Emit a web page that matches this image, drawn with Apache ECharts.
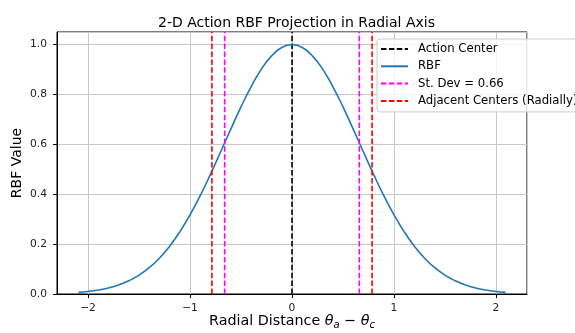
<!DOCTYPE html>
<html>
<head>
<meta charset="utf-8">
<script src="https://cdn.jsdelivr.net/npm/echarts@6/dist/echarts.min.js"></script>
<style>html,body{margin:0;padding:0;background:#fff}#c{width:575px;height:333px}</style>
</head>
<body>
<div id="c"></div>
<script>
const rbfX = [-2.094,-2.0,-1.9,-1.8,-1.7,-1.6,-1.5,-1.4,-1.3,-1.2,-1.1,-1.0,-0.9,-0.8,-0.7,-0.6,-0.5,-0.4,-0.3,-0.2,-0.1,0.0,0.1,0.2,0.3,0.4,0.5,0.6,0.7,0.8,0.9,1.0,1.1,1.2,1.3,1.4,1.5,1.6,1.7,1.8,1.9,2.0,2.094];
const rbfY = [0.0065,0.0101,0.0159,0.0243,0.0363,0.0530,0.0756,0.1054,0.1437,0.1915,0.2494,0.3173,0.3946,0.4797,0.5698,0.6615,0.7506,0.8322,0.9019,0.9551,0.9886,1.0,0.9886,0.9551,0.9019,0.8322,0.7506,0.6615,0.5698,0.4797,0.3946,0.3173,0.2494,0.1915,0.1437,0.1054,0.0756,0.0530,0.0363,0.0243,0.0159,0.0101,0.0065];
const actionCenter = 0;
const stDevLines = [-0.66, 0.66];
const adjacentCenters = [-0.785, 0.785];
const yTop = 1.051;
const legendNames = ['Action Center', 'RBF', 'St. Dev = 0.66', 'Adjacent Centers (Radially)'];

const FONT = 'DejaVu Sans';
const dash = [5.5, 2.4];
function vline(name, x, color) {
  return {
    name: name, type: 'line', data: [[x, 0], [x, yTop]], symbol: 'none',
    lineStyle: {color: color, width: 1.6, type: dash}, itemStyle: {color: color},
    animation: false, silent: true
  };
}
const series = [];
series.push(vline(legendNames[0], actionCenter, '#000000'));
series.push({
  name: legendNames[1], type: 'line', smooth: true, symbol: 'none',
  data: rbfX.map((x, i) => [x, rbfY[i]]),
  lineStyle: {color: '#1f77b4', width: 1.6}, itemStyle: {color: '#1f77b4'}, animation: false
});
stDevLines.forEach(x => series.push(vline(legendNames[2], x, '#ff00ff')));
adjacentCenters.forEach(x => series.push(vline(legendNames[3], x, '#ff0000')));

const chart = echarts.init(document.getElementById('c'), null, {renderer: 'canvas'});
chart.setOption({
  animation: false,
  backgroundColor: '#ffffff',
  title: {
    text: '2-D Action RBF Projection in Radial Axis',
    left: 291.5, textAlign: 'center', top: 11,
    textStyle: {fontFamily: FONT, fontSize: 14, fontWeight: 'normal', color: '#000'}
  },
  grid: {left: 57, right: 48, top: 32, bottom: 39, outerBoundsMode: 'none', containLabel: false,
    show: true, borderColor: '#000', borderWidth: 1, backgroundColor: 'transparent'},
  legend: {
    data: legendNames, orient: 'vertical', left: 377, top: 39,
    itemWidth: 27, itemHeight: 14, itemGap: 3.3,
    padding: [3, 40, 4, 3],
    itemStyle: {opacity: 0},
    backgroundColor: 'rgba(255,255,255,0.8)', borderColor: '#cccccc', borderWidth: 1, borderRadius: 3,
    textStyle: {fontFamily: FONT, fontSize: 11.7, lineHeight: 14, height: 14, color: '#000', padding: [0, 0, 0, 5]}
  },
  xAxis: {
    type: 'value', min: -2.304, max: 2.304, splitNumber: 5,
    name: 'Radial Distance {i|θ}{s|a} − {i|θ}{s|c}',
    nameLocation: 'middle', nameGap: 18, nameMoveOverlap: false,
    nameTextStyle: {fontFamily: FONT, fontSize: 14.3, color: '#000',
      rich: {i: {fontFamily: FONT, fontStyle: 'italic', fontSize: 14.3, color: '#000'},
             s: {fontFamily: FONT, fontStyle: 'italic', fontSize: 10, color: '#000', verticalAlign: 'bottom', padding: [8, 0, 0, 0]}}},
    axisLine: {show: true, onZero: false, lineStyle: {color: '#000', width: 1}},
    axisTick: {show: true, length: 4, lineStyle: {color: '#000'}},
    axisLabel: {showMinLabel: false, showMaxLabel: false, margin: 9, fontFamily: FONT, fontSize: 10.7, color: '#222',
      formatter: v => (v < 0 ? '\u2212' + Math.abs(v) : String(v))},
    splitLine: {show: true, lineStyle: {color: '#c8c8c8', width: 1}}
  },
  yAxis: {
    type: 'value', min: 0, max: yTop, interval: 0.2,
    name: 'RBF Value', nameLocation: 'middle', nameGap: 33, nameRotate: 90, nameMoveOverlap: false,
    nameTextStyle: {fontFamily: FONT, fontSize: 14, color: '#000'},
    axisLine: {show: true, onZero: false, lineStyle: {color: '#000', width: 1}},
    axisTick: {show: true, length: 4, lineStyle: {color: '#000'}},
    axisLabel: {showMaxLabel: false, margin: 10, fontFamily: FONT, fontSize: 10.7, color: '#222',
      formatter: v => v.toFixed(1)},
    splitLine: {show: true, lineStyle: {color: '#c8c8c8', width: 1}}
  },
  series: series
});
</script>
</body>
</html>
